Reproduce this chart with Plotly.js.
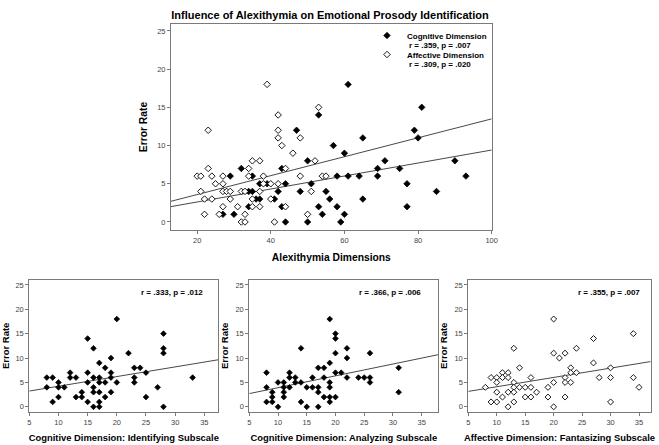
<!DOCTYPE html>
<html>
<head>
<meta charset="utf-8">
<script src="https://cdn.plot.ly/plotly-3.0.1.min.js"></script>
<style>
html,body{margin:0;padding:0;background:#fff;}
#chart{width:659px;height:445px;}
</style>
</head>
<body>
<div id="chart"></div>
<script>
// ---- Data ----
// Main panel: Alexithymia dimensions vs error rate
var cogX = [27,29,30,32,34,34,35,35,36,37,37,39,41,42,43,43,44,44,47,48,50,50,51,53,53,54,55,56,57,58,58,59,60,60,61,61,64,65,65,69,69,71,75,77,77,79,80,81,85,90,93];
var cogY = [1,6,1,7,2,4,6,4,3,3,5,5,3,4,7,2,5,0,12,4,8,0,5,14,2,1,4,3,10,6,2,0,9,1,18,6,6,11,3,7,6,8,7,5,2,12,11,15,4,8,6];
var affX = [20,21,21,22,22,23,23,24,24,25,26,27,27,27,27,28,29,29,31,32,32,33,33,33,34,34,35,35,35,37,37,37,38,38,39,40,40,41,42,42,42,42,43,44,44,46,48,48,50,51,52,53,54,55];
var affY = [6,6,4,3,1,12,7,6,3,5,1,6,5,4,2,4,4,3,2,4,0,4,1,0,7,6,8,3,2,8,4,2,6,5,18,5,3,0,14,12,11,5,10,7,2,9,11,6,1,4,8,15,6,6];
// Bottom panels
var identX = [8,8,9,9,10,10,10,11,12,12,13,13,14,14,15,15,15,15,16,16,16,16,16,17,17,17,17,17,17,18,18,18,19,19,19,19,20,20,22,23,23,23,24,25,25,27,28,28,28,28,33];
var identY = [6,4,6,1,5,4,2,4,7,6,6,2,3,2,14,7,5,1,12,6,4,3,0,9,6,5,3,1,0,8,5,2,10,7,6,3,18,5,11,8,6,5,8,7,2,4,15,12,11,0,6];
var analyzX = [8,8,8,9,9,9,10,10,11,11,11,11,12,12,12,13,13,14,14,14,15,15,16,16,17,17,17,17,18,18,18,19,19,19,19,19,19,20,20,20,20,20,21,22,22,22,24,25,26,26,26,31,31];
var analyzY = [7,4,1,3,2,1,5,0,5,4,3,2,7,6,4,6,5,12,5,1,4,0,6,4,8,4,3,0,8,6,2,18,9,5,4,2,1,15,14,11,7,2,7,12,10,6,6,6,11,6,5,8,3];
var fantX = [8,9,9,10,10,10,10,11,11,11,12,12,12,12,13,13,13,13,13,14,14,15,15,16,16,16,17,19,19,20,20,20,20,21,22,22,22,22,23,23,23,24,24,27,27,28,30,30,30,34,34,35];
var fantY = [4,6,1,6,5,3,1,7,6,2,7,6,3,0,12,5,4,3,1,8,4,4,2,6,4,2,3,4,2,18,11,5,0,10,11,6,5,2,8,7,5,12,7,14,9,6,8,6,1,15,6,4];

var legendNames = ["Cognitive Dimension", "Affective Dimension"];
var legendStats = ["r = .359, p = .007", "r = .309, p = .020"];
var panelStats = ["r = .333, p = .012", "r = .366, p = .006", "r = .355, p = .007"];
var titles = {
  main: "Influence of Alexithymia on Emotional Prosody Identification",
  mainX: "Alexithymia Dimensions",
  y: "Error Rate",
  p1: "Cognitive Dimension: Identifying Subscale",
  p2: "Cognitive Dimension: Analyzing Subscale",
  p3: "Affective Dimension: Fantasizing Subscale"
};
var mainTicks = [20,40,60,80,100];
var subTicks = [5,10,15,20,25,30,35];
var yTicks = [0,5,10,15,20,25];

// ---- helpers ----
function fit(x, y) {
  var n = x.length, sx = 0, sy = 0, sxx = 0, sxy = 0;
  for (var i = 0; i < n; i++) { sx += x[i]; sy += y[i]; sxx += x[i]*x[i]; sxy += x[i]*y[i]; }
  var b = (n*sxy - sx*sy) / (n*sxx - sx*sx);
  var a = (sy - b*sx) / n;
  return {a: a, b: b};
}
function fitLine(x, y, range, xa, ya) {
  var f = fit(x, y);
  return {x: range, y: range.map(function(v){return f.a + f.b*v;}), xaxis: xa, yaxis: ya,
          mode: 'lines', line: {color: '#333', width: 0.9}, showlegend: false, hoverinfo: 'skip'};
}
var FONT = "Liberation Sans, Arial, sans-serif";
var W = 659, H = 445;
function filled(x, y, xa, ya, size, name, leg) {
  return {x: x, y: y, xaxis: xa, yaxis: ya, mode: 'markers', type: 'scatter', name: name, showlegend: !!leg,
          marker: {symbol: 'diamond', size: size, color: '#000', line: {color: '#000', width: 0.7}}};
}
function open(x, y, xa, ya, size, name, leg) {
  return {x: x, y: y, xaxis: xa, yaxis: ya, mode: 'markers', type: 'scatter', name: name, showlegend: !!leg,
          marker: {symbol: 'diamond', size: size, color: '#fff', line: {color: '#000', width: 0.9}}};
}

var mainRange = [12.9, 100];
var r1 = [5, 37.4], r2 = [5, 37.9], r3 = [5, 37.05];
var traces = [
  fitLine(cogX, cogY, mainRange, 'x', 'y'),
  fitLine(affX, affY, mainRange, 'x', 'y'),
  filled(cogX, cogY, 'x', 'y', 5, legendNames[0], true),
  open(affX, affY, 'x', 'y', 5, legendNames[1], true),
  fitLine(identX, identY, r1, 'x2', 'y2'),
  filled(identX, identY, 'x2', 'y2', 4.4),
  fitLine(analyzX, analyzY, r2, 'x3', 'y3'),
  filled(analyzX, analyzY, 'x3', 'y3', 4.4),
  fitLine(fantX, fantY, r3, 'x4', 'y4'),
  open(fantX, fantY, 'x4', 'y4', 4.6)
];

function ax(domain, range, ticks, title, tsize, standoff, anchor) {
  return {
    domain: domain, range: range, anchor: anchor, tickvals: ticks, ticktext: ticks.map(String),
    showline: true, mirror: true, linecolor: '#7a7a7a', linewidth: 1,
    ticks: 'outside', ticklen: 3, tickcolor: '#7a7a7a', tickwidth: 1,
    showgrid: false, zeroline: false, fixedrange: true,
    tickfont: {family: FONT, size: 7.5, color: '#444'},
    title: {text: title ? '<b>' + title + '</b>' : '', font: {family: FONT, size: tsize, color: '#000'}, standoff: standoff}
  };
}
function px(a, b) { return [a / W, b / W]; }
function py(top, bottom) { return [1 - bottom / H, 1 - top / H]; }

var subY = py(280, 411.7);
var statFont = {family: FONT, size: 8, color: '#000'};
function note(text, xPx, yPx, anchor) {
  return {text: '<b>' + text + '</b>', xref: 'paper', yref: 'paper', x: xPx / W, y: 1 - yPx / H,
          xanchor: anchor, yanchor: 'middle', showarrow: false, font: statFont};
}
var legendLeft = 367;
var layout = {
  width: W, height: H,
  margin: {l: 0, r: 0, t: 0, b: 0},
  paper_bgcolor: '#fff', plot_bgcolor: '#fff',
  font: {family: FONT},
  title: {text: '<b>' + titles.main + '</b>', x: 330 / W, xanchor: 'center', y: 1 - 15 / H, yanchor: 'middle',
          yref: 'container', xref: 'container', font: {family: FONT, size: 11, color: '#000'}},
  xaxis: ax(px(171, 491.7), mainRange, mainTicks, titles.mainX, 10.3, 9, 'y'),
  yaxis: ax(py(24, 230), [-1.05, 25.9], yTicks, titles.y, 10.3, 7, 'x'),
  xaxis2: ax(px(29.3, 218.3), r1, subTicks, titles.p1, 9.4, 8, 'y2'),
  yaxis2: ax(subY, [-1, 26], yTicks, titles.y, 9.5, 5, 'x2'),
  xaxis3: ax(px(249.3, 438.3), r2, subTicks, titles.p2, 9.4, 8, 'y3'),
  yaxis3: ax(subY, [-1, 26], yTicks, titles.y, 9.5, 5, 'x3'),
  xaxis4: ax(px(468.3, 650.7), r3, subTicks, titles.p3, 9.4, 8, 'y4'),
  yaxis4: ax(subY, [-1, 26], yTicks, titles.y, 9.5, 5, 'x4'),
  showlegend: true,
  legend: {x: legendLeft / W, y: 1 - 21 / H, xanchor: 'left', yanchor: 'top', bgcolor: 'rgba(0,0,0,0)',
           font: {family: FONT, size: 8, color: '#000', weight: 'bold'}, valign: 'middle',
           itemwidth: 30, tracegroupgap: 0},
  annotations: [
    note(legendStats[0], legendLeft + 40, 45.5, 'left'),
    note(legendStats[1], legendLeft + 40, 64.8, 'left'),
    note(panelStats[0], 205, 292.7, 'right'),
    note(panelStats[1], 423.3, 292.7, 'right'),
    note(panelStats[2], 641.7, 292.7, 'right')
  ]
};

Plotly.newPlot('chart', traces, layout, {displayModeBar: false, staticPlot: true});
</script>
</body>
</html>
